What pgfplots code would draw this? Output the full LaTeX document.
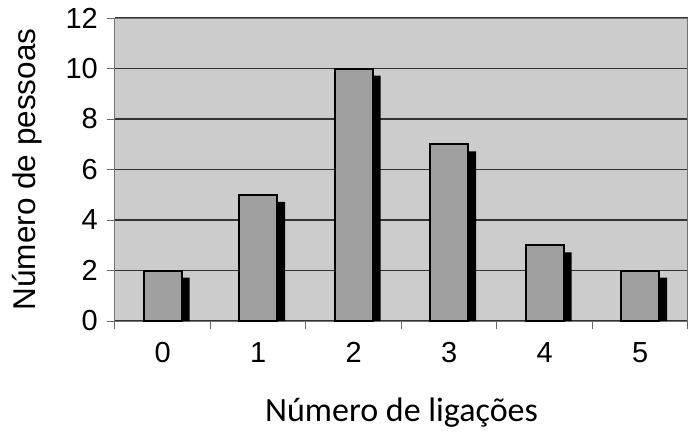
\documentclass[border=0pt]{standalone}
\usepackage{fontspec}
\setmainfont{Liberation Sans}
\newfontfamily\calibri{Carlito}
\usepackage{pgfplots}
\pgfplotsset{compat=1.18}

\definecolor{plotbg}{RGB}{204,204,204}
\definecolor{barfill}{RGB}{160,160,160}

\begin{document}
\begin{tikzpicture}[x=1pt,y=1pt]
  \path[use as bounding box] (-115,-111) rectangle (581,321);
  \begin{axis}[
    at={(0,0)}, anchor=south west,
    scale only axis,
    width=573pt, height=303pt,
    xmin=-0.5, xmax=5.5,
    ymin=0, ymax=12,
    xtick={0,...,5},
    major x tick style={draw=none},
    minor xtick={-0.5,0.5,...,5.5},
    minor tick length=8pt,
    ytick={0,2,...,12},
    major tick length=8pt,
    tick align=outside,
    xtick pos=bottom, ytick pos=left,
    tick style={black!60, line width=1pt},
    ymajorgrids=true,
    grid style={black!80, line width=1.3pt},
    axis line style={black!55, line width=1pt},
    axis background/.style={fill=plotbg},
    /pgf/number format/assume math mode=true,
    tick label style={font=\fontsize{29}{32}\selectfont, inner sep=0pt},
    xticklabel style={yshift=-13pt},
    yticklabel style={xshift=-9pt},
    xlabel={\calibri Número de ligações},
    ylabel={Número de pessoas},
    every axis x label/.style={at={(axis description cs:0.5,-0.333)}, anchor=base,
      font=\fontsize{34}{38}\selectfont},
    every axis y label/.style={at={(axis description cs:-0.1396,0.5)}, anchor=base, rotate=90,
      font=\fontsize{31.5}{35}\selectfont},
  ]
    % shadow
    \addplot[ybar, bar width=38pt, bar shift=8pt, fill=black, draw=none]
      coordinates {(0,1.72) (1,4.72) (2,9.72) (3,6.72) (4,2.72) (5,1.72)};
    % bars
    \addplot[ybar, bar width=38pt, bar shift=0pt, fill=barfill, draw=black, line width=2pt]
      coordinates {(0,2) (1,5) (2,10) (3,7) (4,3) (5,2)};
  \end{axis}
\end{tikzpicture}
\end{document}
